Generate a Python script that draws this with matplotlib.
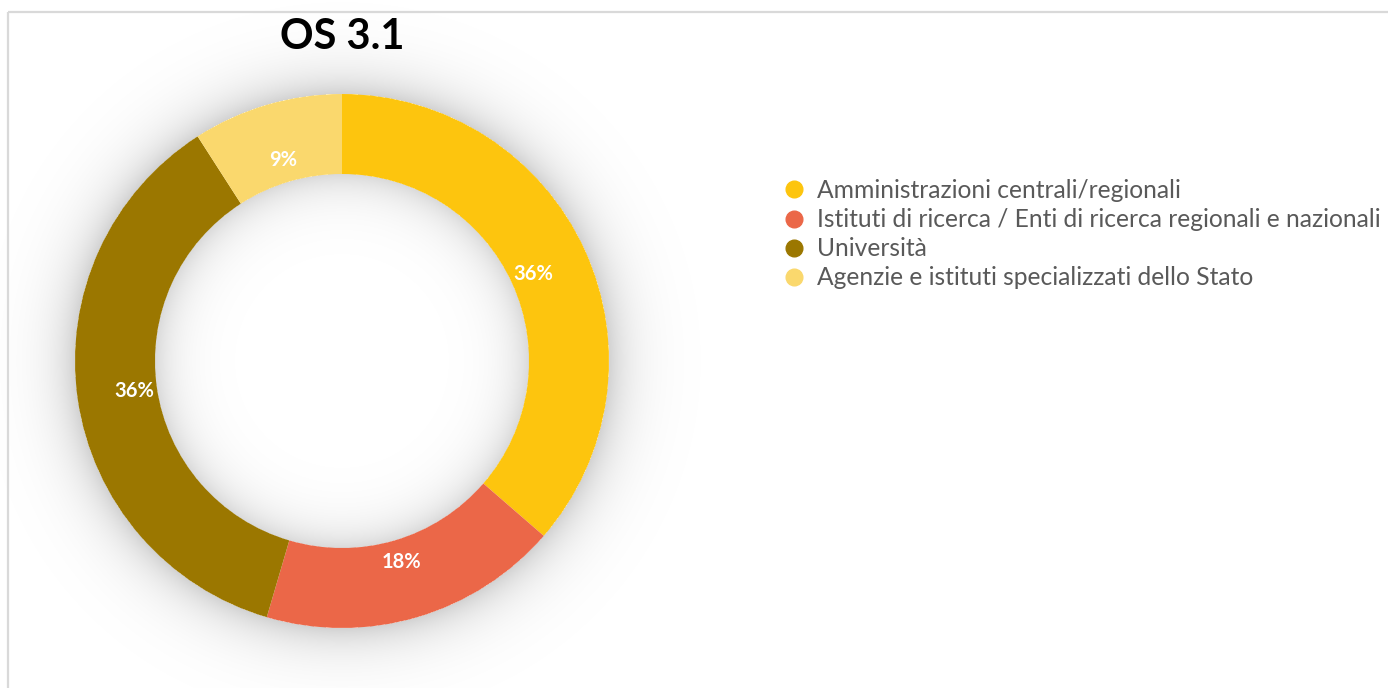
import numpy as np
import matplotlib
matplotlib.use("Agg")
import matplotlib.pyplot as plt
from matplotlib.lines import Line2D

categories = ["Amministrazioni centrali/regionali",
              "Istituti di ricerca / Enti di ricerca regionali e nazionali",
              "Università",
              "Agenzie e istituti specializzati dello Stato"]
values = [4, 2, 4, 1]
colors = ["#FDC50E", "#EB6748", "#9B7700", "#FAD86D"]
title = "OS 3.1"

W, H = 1388, 688
fig = plt.figure(figsize=(W / 100, H / 100), dpi=100)
ax = fig.add_axes([0, 0, 1, 1])

cx, cy = 342, 327
R_out, R_in = 267, 187

# soft shadow around the ring
yy, xx = np.mgrid[0:H, 0:W]
rr = np.hypot(xx + 0.5 - cx, (H - yy - 0.5) - cy)
alpha = np.zeros_like(rr)
out = rr > R_out
alpha[out] = 0.18 * np.exp(-(rr[out] - R_out) / 24.0)
inn = rr < R_in
alpha[inn] = 0.15 * np.exp(-(R_in - rr[inn]) / 22.0)
img = np.zeros((H, W, 4))
img[..., 3] = alpha
ax.imshow(img, extent=(0, W, 0, H), origin="upper", zorder=0, interpolation="bilinear")

wedges, texts, autotexts = ax.pie(
    values, colors=colors, startangle=90, counterclock=False,
    center=(cx, cy), radius=R_out,
    wedgeprops=dict(width=R_out - R_in, linewidth=0),
    autopct=lambda p: f"{p:.0f}%", pctdistance=210 / R_out,
    textprops=dict(color="white", fontsize=14.5, fontweight="bold", family="Lato"))
for w in wedges:
    w.set_zorder(2)
for t in autotexts:
    t.set_zorder(3)

ax.set_xlim(0, W)
ax.set_ylim(0, H)
ax.set_aspect("auto")
ax.axis("off")

# frame lines
ax.plot([8, W], [H - 12, H - 12], color="#D9D9D9", lw=1.6, zorder=1, solid_capstyle="butt")
ax.plot([8, 8], [0, H - 12], color="#D9D9D9", lw=1.6, zorder=1, solid_capstyle="butt")

ax.text(cx, H - 37, title, ha="center", va="center", fontsize=30,
        fontweight="bold", family="Lato", color="black")

handles = [Line2D([], [], marker="o", linestyle="none", markersize=12,
                  markerfacecolor=c, markeredgecolor=c) for c in colors]
leg = ax.legend(handles, categories, loc="upper left",
                bbox_to_anchor=(782 / W, 1 - 179 / H),
                frameon=False, prop=dict(family="Lato", size=17.7),
                labelcolor="#595959", handletextpad=0.42, labelspacing=0.25,
                handlelength=1.0, borderaxespad=0, borderpad=0)

fig.savefig("out.png", dpi=100)
